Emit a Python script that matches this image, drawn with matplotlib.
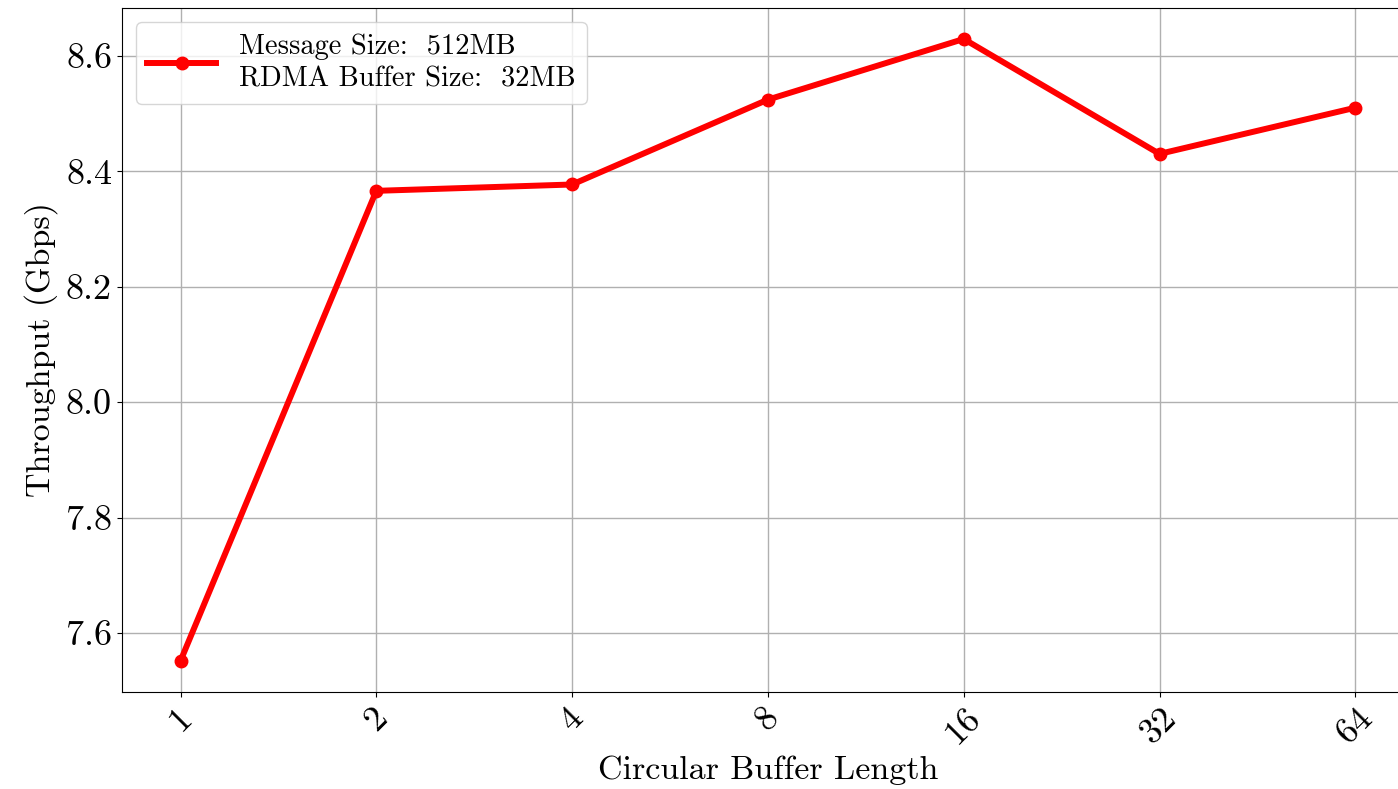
import matplotlib
matplotlib.use("Agg")
import matplotlib.pyplot as plt

# data
buffer_len = ["1", "2", "4", "8", "16", "32", "64"]
throughput = [7.552, 8.366, 8.377, 8.524, 8.629, 8.430, 8.510]
legend_label = "Message Size:  512MB\nRDMA Buffer Size:  32MB"

plt.rcParams["font.family"] = "serif"
plt.rcParams["font.serif"] = ["cmr10"]
plt.rcParams["mathtext.fontset"] = "cm"
plt.rcParams["axes.formatter.use_mathtext"] = True
plt.rcParams["axes.unicode_minus"] = False

fig, ax = plt.subplots(figsize=(13.98, 7.89), dpi=100)
# the original is cropped on the right, so the axes run past the edge
fig.subplots_adjust(left=0.0871, right=1.0115, top=0.99, bottom=0.123)

xs = list(range(len(buffer_len)))
ax.plot(xs, throughput, color="red", lw=4.3, marker="o", markersize=9, label=legend_label)

ax.set_xticks(xs)
ax.set_xticklabels(buffer_len, rotation=45, fontsize=26)
ax.tick_params(axis="y", labelsize=26)
ax.set_yticks([7.6, 7.8, 8.0, 8.2, 8.4, 8.6])
ax.set_yticklabels(["7.6", "7.8", "8.0", "8.2", "8.4", "8.6"])
ax.set_xlabel("Circular Buffer Length", fontsize=24.5)
ax.set_ylabel("Throughput (Gbps)", fontsize=24.5, labelpad=6)
ax.grid(True, color="#b0b0b0", lw=1)
ax.set_axisbelow(True)
leg = ax.legend(loc="upper left", fontsize=20.5, handlelength=2.4, handletextpad=0.8,
                labelspacing=0.1)
for t in leg.get_texts():
    t.set_linespacing(1.3)

fig.savefig("out.png", dpi=100)
